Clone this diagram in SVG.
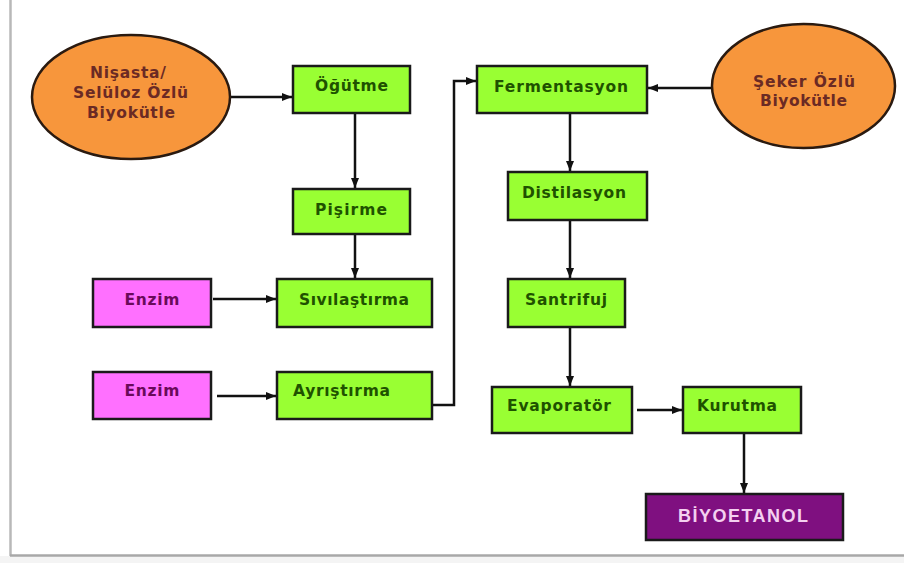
<svg xmlns="http://www.w3.org/2000/svg" width="904" height="563" viewBox="0 0 904 563">
<defs>
<marker id="ah" viewBox="0 0 10 10" refX="10" refY="5" markerWidth="4" markerHeight="4" orient="auto" markerUnits="strokeWidth"><path d="M0,1 L10,5 L0,9 z" fill="#111"/></marker>
<style>
.g rect{fill:#99ff33;stroke:#1a1a1a;stroke-width:2.5}
.g text{fill:#1f5200}
.p rect{fill:#ff70ff;stroke:#1a1a1a;stroke-width:2.5}
.p text{fill:#6a0a5a}
.o ellipse{fill:#f7963c;stroke:#2a1a10;stroke-width:2.5}
.o text{fill:#6b2a24}
text{font-family:"DejaVu Sans",Verdana,sans-serif;font-weight:bold;font-size:15.5px;text-anchor:middle}
.c path,.c line{fill:none;stroke:#111;stroke-width:2.5;marker-end:url(#ah)}
</style>
</defs>
<rect x="0" y="0" width="904" height="563" fill="#ffffff"/>
<rect x="0" y="556" width="904" height="7" fill="#f4f4f4"/>
<line x1="10.5" y1="0" x2="10.5" y2="556" stroke="#b8b8b8" stroke-width="2.5"/>
<line x1="10" y1="555.5" x2="904" y2="555.5" stroke="#a8a8a8" stroke-width="2.5"/>

<g class="c" id="connectors">
<line x1="231" y1="97" x2="292" y2="97"/>
<line x1="355" y1="113" x2="355" y2="188"/>
<line x1="355" y1="234" x2="355" y2="278"/>
<line x1="213" y1="299" x2="276" y2="299"/>
<line x1="217" y1="396" x2="276" y2="396"/>
<path d="M432,405 H454 V81 H476"/>
<line x1="712" y1="88" x2="648" y2="88"/>
<line x1="570" y1="113" x2="570" y2="171"/>
<line x1="570" y1="220" x2="570" y2="278"/>
<line x1="570" y1="327" x2="570" y2="386"/>
<line x1="637" y1="410" x2="682" y2="410"/>
<line x1="744" y1="433" x2="744" y2="493"/>
</g>

<g id="nisasta" class="o">
<ellipse cx="131" cy="97" rx="99" ry="62"/>
<text x="128" y="77.5" textLength="76" lengthAdjust="spacing">Nişasta/</text>
<text x="130.5" y="97.5" textLength="115" lengthAdjust="spacing">Selüloz Özlü</text>
<text x="131" y="117.5" textLength="88" lengthAdjust="spacing">Biyokütle</text>
</g>
<g id="seker" class="o">
<ellipse cx="803.5" cy="86" rx="91.5" ry="62"/>
<text x="804" y="86.5" textLength="102" lengthAdjust="spacing">Şeker Özlü</text>
<text x="803.5" y="105.5" textLength="87" lengthAdjust="spacing">Biyokütle</text>
</g>
<g id="ogutme" class="g">
<rect x="293" y="66" width="117" height="47"/>
<text x="351.5" y="90.5" textLength="73" lengthAdjust="spacing">Öğütme</text>
</g>
<g id="pisirme" class="g">
<rect x="293" y="189" width="117" height="45"/>
<text x="351" y="214.5" textLength="72" lengthAdjust="spacing">Pişirme</text>
</g>
<g id="enzim1" class="p">
<rect x="93" y="279" width="118" height="48"/>
<text x="152" y="304.5" textLength="55" lengthAdjust="spacing">Enzim</text>
</g>
<g id="sivilastirma" class="g">
<rect x="277" y="279" width="155" height="48"/>
<text x="354" y="304.5" textLength="110" lengthAdjust="spacing">Sıvılaştırma</text>
</g>
<g id="enzim2" class="p">
<rect x="93" y="372" width="118" height="47"/>
<text x="152" y="395.5" textLength="55" lengthAdjust="spacing">Enzim</text>
</g>
<g id="ayristirma" class="g">
<rect x="277" y="372" width="155" height="47"/>
<text x="341.5" y="395.5" textLength="97" lengthAdjust="spacing">Ayrıştırma</text>
</g>
<g id="fermentasyon" class="g">
<rect x="477" y="66" width="170" height="47"/>
<text x="561" y="91.5" textLength="134" lengthAdjust="spacing">Fermentasyon</text>
</g>
<g id="distilasyon" class="g">
<rect x="508" y="172" width="139" height="48"/>
<text x="574" y="197.5" textLength="104" lengthAdjust="spacing">Distilasyon</text>
</g>
<g id="santrifuj" class="g">
<rect x="508" y="279" width="117" height="48"/>
<text x="566" y="304.5" textLength="82" lengthAdjust="spacing">Santrifuj</text>
</g>
<g id="evaporator" class="g">
<rect x="492" y="387" width="140" height="46"/>
<text x="559" y="410.5" textLength="104" lengthAdjust="spacing">Evaporatör</text>
</g>
<g id="kurutma" class="g">
<rect x="683" y="387" width="118" height="46"/>
<text x="737" y="410.5" textLength="80" lengthAdjust="spacing">Kurutma</text>
</g>
<g id="biyoetanol">
<rect x="646" y="494" width="197" height="46" fill="#7f1080" stroke="#1a1a1a" stroke-width="2.5"/>
<text x="743" y="521.5" textLength="130" lengthAdjust="spacing" style="font-family:'Liberation Sans',Arial,sans-serif;font-size:18px;fill:#f4d0f0">BİYOETANOL</text>
</g>
</svg>
